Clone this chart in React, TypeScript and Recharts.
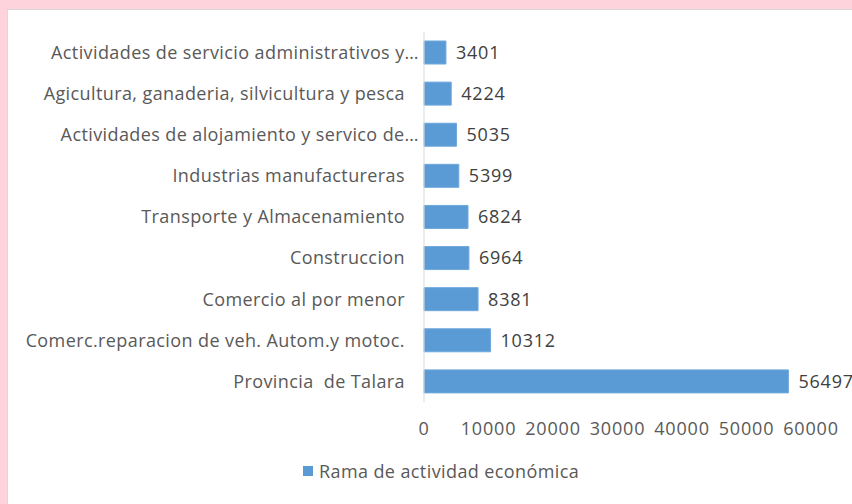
import React from "react";
import { BarChart, Bar, XAxis, YAxis, LabelList } from "recharts";

const categories = [
  "Actividades de servicio administrativos y…",
  "Agicultura, ganaderia, silvicultura y pesca",
  "Actividades de alojamiento y servico de…",
  "Industrias manufactureras",
  "Transporte y Almacenamiento",
  "Construccion",
  "Comercio al por menor",
  "Comerc.reparacion de veh. Autom.y motoc.",
  "Provincia  de Talara",
];
const values = [3401, 4224, 5035, 5399, 6824, 6964, 8381, 10312, 56497];
const xTicks = [0, 10000, 20000, 30000, 40000, 50000, 60000];
const seriesName = "Rama de actividad económica";

const data = categories.map((c, i) => ({ name: c, value: values[i] }));

const FONT = "'Open Sans', 'Liberation Sans', sans-serif";
const FS = 18;
const LS = 0.4;

const CatTick = (props: any) => {
  const { x, y, payload } = props;
  const label: string = String(payload.value);
  const truncated = label.endsWith("…");
  return (
    <text
      x={truncated ? x + 14 : x}
      y={y}
      dy="0.35em"
      textAnchor="end"
      fill="#595959"
      fontSize={FS}
      fontFamily={FONT}
      style={{ whiteSpace: "pre", letterSpacing: LS }}
      xmlSpace="preserve"
    >
      {label}
    </text>
  );
};

export default function App() {
  return (
    <div style={{ position: "fixed", left: 0, top: 0, width: 852, height: 504, background: "#ffd3dc", overflow: "hidden" }}>
      <div style={{ position: "absolute", left: 7, top: 9, width: 860, height: 510, background: "#ffffff", border: "1px solid #d9d9d9" }}>
        <BarChart
          width={844}
          height={495}
          data={data}
          layout="vertical"
          margin={{ top: 22, right: 41, bottom: 63, left: 0 }}
          barSize={23}
          style={{ fontFamily: FONT }}
        >
          <XAxis
            type="number"
            domain={[0, 60000]}
            ticks={xTicks}
            axisLine={false}
            tickLine={false}
            tickSize={0}
            tickMargin={20}
            interval={0}
            tick={{ fill: "#595959", fontSize: FS, fontFamily: FONT, style: { letterSpacing: 0.8 } }}
            height={40}
          />
          <YAxis
            type="category"
            dataKey="name"
            width={416}
            axisLine={{ stroke: "#d9d9d9" }}
            tickLine={false}
            tickSize={0}
            tickMargin={19}
            interval={0}
            tick={<CatTick />}
          />
          <Bar dataKey="value" name={seriesName} fill="#5b9bd5" stroke="#6fa8dc" isAnimationActive={false}>
            <LabelList dataKey="value" position="right" offset={10} fill="#404040" fontSize={FS} fontFamily={FONT} style={{ letterSpacing: 0.8 }} />
          </Bar>
        </BarChart>
        <div style={{ position: "absolute", left: 295, top: 449, display: "flex", alignItems: "center", fontFamily: FONT, fontSize: FS, color: "#595959", whiteSpace: "nowrap", letterSpacing: LS }}>
          <span style={{ display: "inline-block", width: 10, height: 10, background: "#5b9bd5", marginRight: 6 }} />
          <span>{seriesName}</span>
        </div>
      </div>
    </div>
  );
}
